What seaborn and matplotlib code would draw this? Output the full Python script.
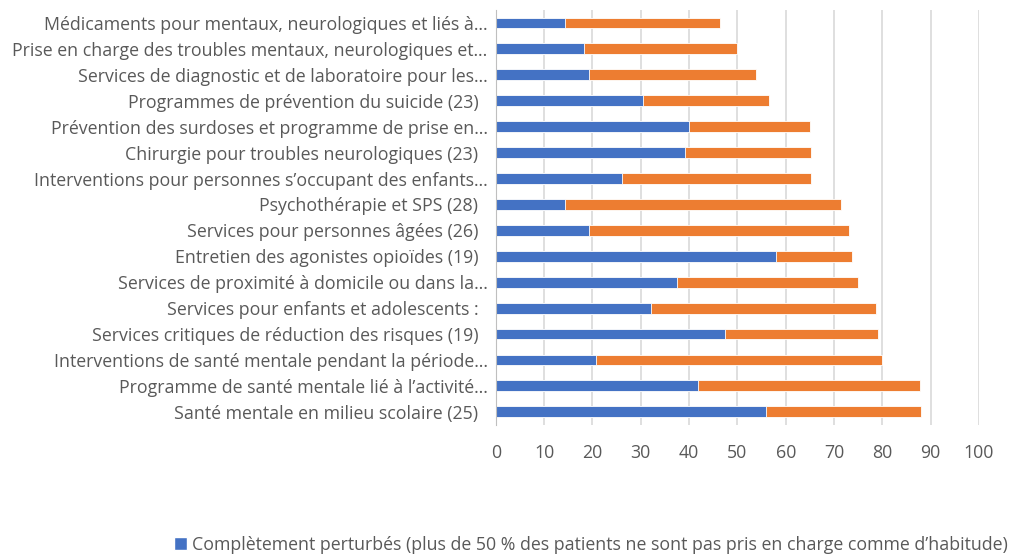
import numpy as np
import pandas as pd
import matplotlib
matplotlib.use("Agg")
import matplotlib.pyplot as plt
import seaborn as sns
from matplotlib.patches import Patch

# categories, top to bottom
categories = [
    "Médicaments pour mentaux, neurologiques et liés à…",
    "Prise en charge des troubles mentaux, neurologiques et…",
    "Services de diagnostic et de laboratoire pour les…",
    "Programmes de prévention du suicide (23)  ",
    "Prévention des surdoses et programme de prise en…",
    "Chirurgie pour troubles neurologiques (23)  ",
    "Interventions pour personnes s’occupant des enfants…",
    "Psychothérapie et SPS (28)  ",
    "Services pour personnes âgées (26)  ",
    "Entretien des agonistes opioïdes (19)  ",
    "Services de proximité à domicile ou dans la…",
    "Services pour enfants et adolescents :  ",
    "Services critiques de réduction des risques (19)  ",
    "Interventions de santé mentale pendant la période…",
    "Programme de santé mentale lié à l’activité…",
    "Santé mentale en milieu scolaire (25)  ",
]
# % completely disrupted
completely = [14.3, 18.2, 19.2, 30.4, 40.0, 39.1, 26.1, 14.3,
              19.2, 57.9, 37.5, 32.1, 47.4, 20.8, 41.9, 56.0]
# % partially disrupted
partially = [32.1, 31.8, 34.6, 26.1, 25.0, 26.1, 39.1, 57.1,
             53.8, 15.8, 37.5, 46.5, 31.6, 59.2, 45.8, 32.0]

legend_complete = "Complètement perturbés (plus de 50 % des patients ne sont pas pris en charge comme d’habitude)"

BLUE = "#4472C4"
ORANGE = "#ED7D31"
GREY = "#595959"

sns.set_style("white")
plt.rcParams["font.family"] = ["Open Sans", "DejaVu Sans"]

df = pd.DataFrame({"cat": categories, "complet": completely, "partiel": partially})
df["total"] = df["complet"] + df["partiel"]

fig = plt.figure(figsize=(10.14, 5.56), dpi=100)
ax = fig.add_axes([0.489, 0.236, 0.4765, 0.746])

sns.barplot(data=df, y="cat", x="total", color=ORANGE, width=0.42,
            orient="h", saturation=1, edgecolor="white", linewidth=0.6, ax=ax)
sns.barplot(data=df, y="cat", x="complet", color=BLUE, width=0.42,
            orient="h", saturation=1, edgecolor="white", linewidth=0.6, ax=ax)

ax.set_xlim(0, 100)
ax.set_xticks(np.arange(0, 101, 10))
ax.xaxis.grid(True, color="#d9d9d9", linewidth=1.2)
ax.set_axisbelow(True)
ax.set_xlabel("")
ax.set_ylabel("")
for s in ["top", "right", "bottom"]:
    ax.spines[s].set_visible(False)
ax.spines["left"].set_color("#bfbfbf")
ax.tick_params(axis="x", length=0, labelsize=12.8, labelcolor=GREY, pad=14)
ax.tick_params(axis="y", length=0, labelsize=12.8, labelcolor=GREY, pad=6)

handles = [Patch(facecolor=BLUE, label=legend_complete)]
fig.legend(handles=handles, loc="center", bbox_to_anchor=(0.583, 0.02),
           frameon=False, fontsize=12.8, labelcolor=GREY, handlelength=0.7,
           handleheight=0.7, handletextpad=0.3)

fig.savefig("out.png", dpi=100)
